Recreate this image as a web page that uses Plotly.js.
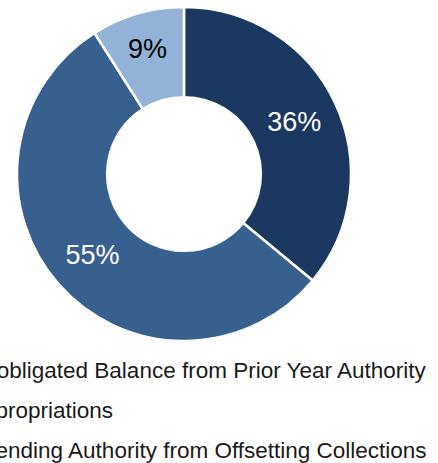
<!DOCTYPE html>
<html><head><meta charset="utf-8">
<script src="https://cdn.plot.ly/plotly-3.0.1.min.js"></script>
<style>html,body{margin:0;padding:0;background:#fff;}#chart{width:438px;height:463px;}</style>
</head><body><div id="chart"></div>
<script>
const categories = ["Unobligated Balance from Prior Year Authority", "Appropriations", "Spending Authority from Offsetting Collections"];
const shares = [36, 55, 9];
const sliceColors = ["#1a3860", "#37608f", "#93b2d7"];
const labelColors = ["#ffffff", "#ffffff", "#000000"];

const W = 438, H = 463;
const M = {l: 17, r: 87, t: 7, b: 122};
const plotW = W - M.l - M.r, plotH = H - M.t - M.b;
const FONT = "Liberation Sans, Arial, sans-serif";

const trace = {
  type: "pie",
  labels: categories,
  values: shares,
  hole: 0.46,
  sort: false,
  direction: "clockwise",
  rotation: 0,
  marker: {colors: sliceColors, line: {color: "#ffffff", width: 2.5}},
  textinfo: "percent",
  textposition: "inside",
  insidetextorientation: "horizontal",
  insidetextfont: {color: labelColors, size: 27, family: FONT},
  hoverinfo: "none",
  showlegend: false
};

// legend-like entries (the reference's legend is cut off at the left edge)
const legendLeftPx = -34, legendTopCenterPx = 370, legendStepPx = 40;
const annotations = categories.map((name, i) => ({
  xref: "paper", yref: "paper",
  x: (legendLeftPx - M.l) / plotW,
  y: (H - M.b - (legendTopCenterPx + i * legendStepPx)) / plotH,
  xanchor: "left", yanchor: "middle",
  text: name, showarrow: false,
  font: {size: 22.5, color: "#1a1a1a", family: FONT}
}));

const layout = {
  width: W, height: H,
  margin: M,
  showlegend: false,
  annotations: annotations,
  paper_bgcolor: "#ffffff",
  plot_bgcolor: "#ffffff"
};

Plotly.newPlot("chart", [trace], layout, {displayModeBar: false, staticPlot: true});
</script></body></html>
